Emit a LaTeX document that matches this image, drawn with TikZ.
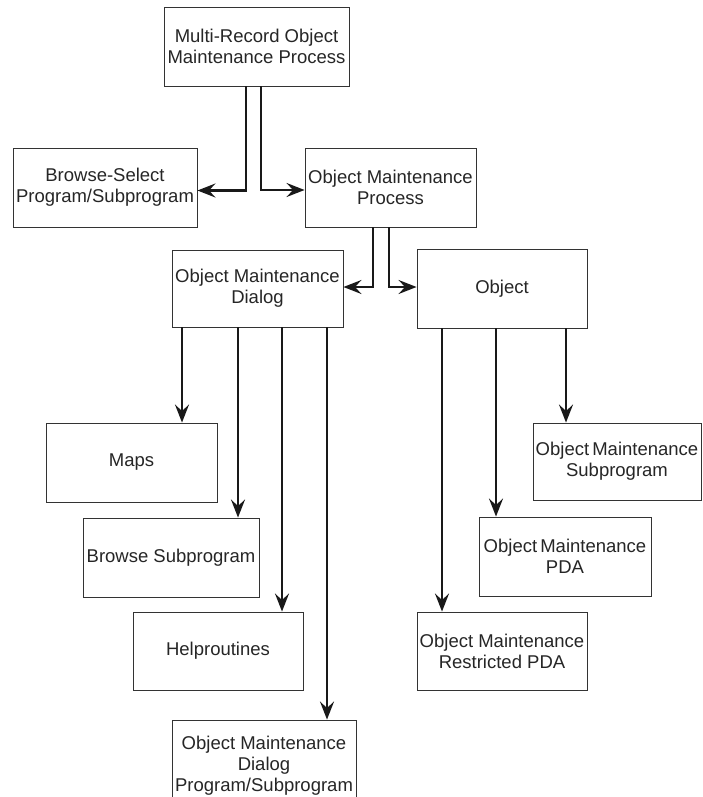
\documentclass[tikz,border=0pt]{standalone}
\usepackage{fontspec}
\setmainfont{Liberation Sans}
\usetikzlibrary{arrows.meta}
\begin{document}
\begin{tikzpicture}[x=1pt,y=-1pt,
  box/.style={draw=black!80, line width=0.9pt, align=center, inner sep=0pt,
    font=\fontsize{18.5}{21}\selectfont, text=black!85},
  conn/.style={draw=black!90, line width=2.5pt,
    -{Stealth[length=18pt,width=14pt,inset=6.5pt]}},
]
\fill[white] (0,0) rectangle (702,797);
\useasboundingbox (0,0) rectangle (702,797);

% boxes (centre, width, height in px)
\node[box, minimum width=185pt, minimum height=79pt] (top)  at (256.5,46.5)
  {Multi-Record Object\\Maintenance Process};
\node[box, minimum width=184pt, minimum height=79pt] (bsel) at (105,187.5)
  {Browse-Select\\Program/Subprogram};
\node[box, minimum width=171pt, minimum height=79pt] (omp)  at (390.5,187.5)
  {Object Maintenance\\Process};
\node[box, minimum width=171pt, minimum height=77pt] (omd)  at (257.5,288.5)
  {Object Maintenance\\Dialog};
\node[box, minimum width=170pt, minimum height=79pt] (obj)  at (502,288.5)
  {Object};
\node[box, minimum width=171pt, minimum height=79pt] (maps) at (131.5,462.5)
  {Maps};
\node[box, minimum width=176pt, minimum height=79pt] (bsub) at (171,557.5)
  {Browse Subprogram};
\node[box, minimum width=170pt, minimum height=78pt] (help) at (218,651)
  {Helproutines};
\node[box, minimum width=184pt, minimum height=92pt] (omdp) at (264,766)
  {Object Maintenance\\Dialog\\Program/Subprogram};
\node[box, minimum width=168pt, minimum height=77pt] (omsub) at (617,461.5)
  {Object\hspace{-2pt} Maintenance\\Subprogram};
\node[box, minimum width=172pt, minimum height=79pt] (ompda) at (565,556.5)
  {Object\hspace{-2pt} Maintenance\\PDA};
\node[box, minimum width=170pt, minimum height=78pt] (omrpda) at (502,651)
  {Object Maintenance\\Restricted PDA};

% top process to its two children
\draw[conn] ([xshift=-10.5pt]top.south) |- ([yshift=-3pt]bsel.east);
\draw[conn] ([xshift=4.5pt]top.south) |- ([yshift=-2.5pt]omp.west);

% object maintenance process to dialog and object
\draw[conn] ([xshift=-17.5pt]omp.south) |- ([yshift=1.5pt]omd.east);
\draw[conn] ([xshift=-1.5pt]omp.south) |- ([yshift=1.5pt]obj.west);

% dialog to its parts
\draw[conn] ([xshift=-75.5pt]omd.south) -- ([xshift=-75.5pt]omd.south |- maps.north);
\draw[conn] ([xshift=-19.5pt]omd.south) -- ([xshift=-19.5pt]omd.south |- bsub.north);
\draw[conn] ([xshift=24.5pt]omd.south) -- ([xshift=24.5pt]omd.south |- help.north);
\draw[conn] ([xshift=69.5pt]omd.south) -- ([xshift=69.5pt]omd.south |- omdp.north);

% object to its parts
\draw[conn] ([xshift=-60pt]obj.south) -- ([xshift=-60pt]obj.south |- omrpda.north);
\draw[conn] ([xshift=-6pt]obj.south) -- ([xshift=-6pt]obj.south |- ompda.north);
\draw[conn] ([xshift=64pt]obj.south) -- ([xshift=64pt]obj.south |- omsub.north);
\end{tikzpicture}
\end{document}
